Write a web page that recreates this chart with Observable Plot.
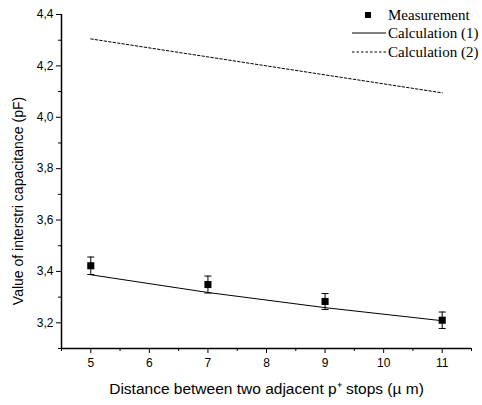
<!DOCTYPE html>
<html>
<head>
<meta charset="utf-8">
<script src="https://cdn.jsdelivr.net/npm/d3@7"></script>
<script src="https://cdn.jsdelivr.net/npm/@observablehq/plot@0.6"></script>
<style>
  html, body { margin: 0; padding: 0; background: #fff; overflow: hidden; }
  #wrap { position: relative; width: 482px; height: 405px; overflow: hidden; }
  .legtext { position: absolute; font-family: "Liberation Serif", "Times New Roman", serif; font-size: 15px; color: #000; white-space: nowrap; line-height: 18px; }
  .legsym { position: absolute; }
</style>
</head>
<body>
<div id="wrap"></div>
<script>
const distances = [5, 7, 9, 11];
const measurement = [3.422, 3.349, 3.283, 3.210];
const measurementErr = [0.034, 0.033, 0.031, 0.032];
const calculation1 = [3.387, 3.318, 3.259, 3.208];
const calculation2 = [4.305, 4.235, 4.165, 4.095];
const xTicks = [5, 6, 7, 8, 9, 10, 11];
const xMinorTicks = [4.5, 5.5, 6.5, 7.5, 8.5, 9.5, 10.5, 11.5];
const yTicks = [3.2, 3.4, 3.6, 3.8, 4.0, 4.2, 4.4];
const yMinorTicks = [3.1, 3.3, 3.5, 3.7, 3.9, 4.1, 4.3];
const seriesNames = ["Measurement", "Calculation (1)", "Calculation (2)"];
const xLabel = "Distance between two adjacent p\u207A stops (\u00B5 m)";
const yLabel = "Value of interstri capacitance (pF)";

const meas = distances.map((x, i) => ({x, y: measurement[i], lo: measurement[i] - measurementErr[i], hi: measurement[i] + measurementErr[i]}));
const c1 = distances.map((x, i) => ({x, y: calculation1[i]}));
const c2 = distances.map((x, i) => ({x, y: calculation2[i]}));

const capSymbol = { draw(ctx, size) { const r = 3.5; ctx.moveTo(-r, 0); ctx.lineTo(r, 0); } };
const fmt = d => d.toFixed(1).replace(".", ",");

const chart = Plot.plot({
  width: 482, height: 405,
  marginLeft: 61, marginRight: 11, marginTop: 14, marginBottom: 57,
  x: {domain: [4.5, 11.5]},
  y: {domain: [3.1, 4.4]},
  style: {fontFamily: "'Liberation Sans', Arial, sans-serif", fontSize: "12px", color: "#000", background: "#fff"},
  marks: [
    Plot.axisX({ticks: xTicks, tickSize: 5, tickPadding: 5, tickFormat: d => String(d), label: null, fontSize: 12}),
    Plot.axisX({ticks: xMinorTicks, tickSize: 3, tickFormat: () => "", label: null}),
    Plot.axisY({ticks: yTicks, tickSize: 5, tickPadding: 3, tickFormat: fmt, label: null, fontSize: 12}),
    Plot.axisY({ticks: yMinorTicks, tickSize: 3, tickFormat: () => "", label: null}),
    Plot.ruleX([4.5], {stroke: "#000", strokeWidth: 1.5}),
    Plot.ruleY([3.1], {stroke: "#000", strokeWidth: 1.5}),
    Plot.text([xLabel], {text: d => d, frameAnchor: "bottom", dy: 45, fontSize: 15.5}),
    Plot.text([yLabel], {text: d => d, frameAnchor: "left", textAnchor: "middle", rotate: -90, fontSize: 14, className: "ylab"}),
    Plot.line(c1, {x: "x", y: "y", stroke: "#000", strokeWidth: 1}),
    Plot.line(c2, {x: "x", y: "y", stroke: "#000", strokeWidth: 1, strokeDasharray: "2.5,2"}),
    Plot.ruleX(meas, {x: "x", y1: "lo", y2: "hi", stroke: "#000", strokeWidth: 1}),
    Plot.dot(meas, {x: "x", y: "hi", symbol: capSymbol, stroke: "#000", strokeWidth: 1}),
    Plot.dot(meas, {x: "x", y: "lo", symbol: capSymbol, stroke: "#000", strokeWidth: 1}),
    Plot.dot(meas, {x: "x", y: "y", symbol: "square", r: 4, fill: "#000", stroke: "none"})
  ]
});
// place the rotated y-axis title
d3.select(chart).selectAll("text").filter(function() { return this.textContent === yLabel; })
  .attr("transform", "translate(19,201) rotate(-90)")
  .each(function() { if (this.parentNode) this.parentNode.removeAttribute("transform"); });

const wrap = document.getElementById("wrap");
wrap.appendChild(chart);

const rowCenters = [15, 33, 52];
const kinds = ["square", "solid", "dash"];
seriesNames.forEach((name, i) => {
  const cy = rowCenters[i];
  const sym = document.createElement("div");
  sym.className = "legsym";
  sym.style.left = "350px";
  sym.style.top = (cy - 9) + "px";
  let inner = "";
  if (kinds[i] === "square") inner = '<rect x="15" y="6" width="6" height="6" fill="#000"/>';
  else if (kinds[i] === "solid") inner = '<line x1="2" x2="36" y1="9" y2="9" stroke="#000" stroke-width="1"/>';
  else inner = '<line x1="2" x2="36" y1="9" y2="9" stroke="#000" stroke-width="1" stroke-dasharray="2.5,2"/>';
  sym.innerHTML = '<svg width="38" height="18">' + inner + '</svg>';
  wrap.appendChild(sym);
  const t = document.createElement("div");
  t.className = "legtext";
  t.style.left = "388px";
  t.style.top = (cy - 9) + "px";
  t.textContent = name;
  wrap.appendChild(t);
});
</script>
</body>
</html>
